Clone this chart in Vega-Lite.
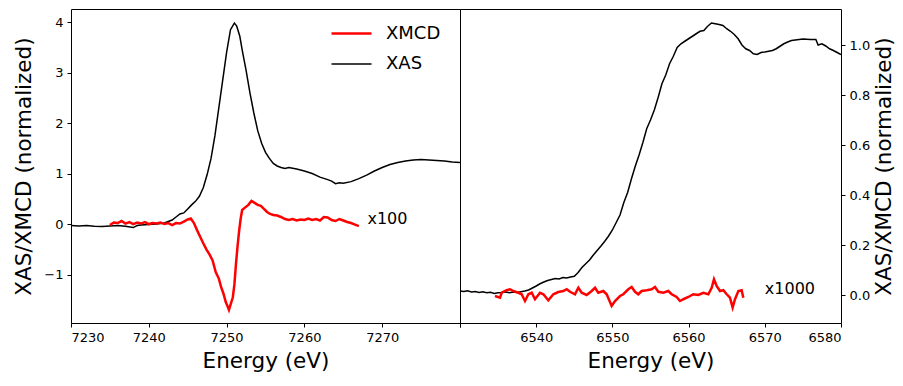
{
  "$schema": "https://vega.github.io/schema/vega-lite/v6.json",
  "background": "white",
  "padding": {"left": 13, "top": 8, "right": 5, "bottom": 5},
  "spacing": 0,
  "bounds": "flush",
  "config": {
    "font": "DejaVu Sans",
    "view": {"stroke": "black", "strokeWidth": 1},
    "axis": {"grid": false, "domain": false, "tickColor": "black", "tickSize": 4, "labelPadding": 4, "labelColor": "black", "labelFontSize": 13, "titleFontSize": 21.5, "titleFontWeight": "normal", "titleColor": "black", "labelFont": "DejaVu Sans", "titleFont": "DejaVu Sans"},
    "legend": {"labelFont": "DejaVu Sans", "labelFontSize": 18, "labelColor": "black"}
  },
  "datasets": {
    "left": [
      {"E": 7230, "v": -0.03, "s": "XAS"}, {"E": 7231, "v": -0.04, "s": "XAS"}, {"E": 7232, "v": -0.03, "s": "XAS"}, {"E": 7233, "v": -0.045, "s": "XAS"}, {"E": 7234, "v": -0.05, "s": "XAS"}, {"E": 7235, "v": -0.04, "s": "XAS"}, {"E": 7236, "v": -0.03, "s": "XAS"}, {"E": 7237, "v": -0.045, "s": "XAS"}, {"E": 7238, "v": -0.07, "s": "XAS"}, {"E": 7238.5, "v": -0.03, "s": "XAS"}, {"E": 7239, "v": -0.02, "s": "XAS"}, {"E": 7240, "v": -0.01, "s": "XAS"}, {"E": 7241, "v": 0.0, "s": "XAS"}, {"E": 7242, "v": 0.02, "s": "XAS"}, {"E": 7243, "v": 0.08, "s": "XAS"}, {"E": 7243.5, "v": 0.14, "s": "XAS"}, {"E": 7244, "v": 0.2, "s": "XAS"}, {"E": 7244.5, "v": 0.22, "s": "XAS"}, {"E": 7245, "v": 0.3, "s": "XAS"}, {"E": 7245.5, "v": 0.38, "s": "XAS"}, {"E": 7246, "v": 0.45, "s": "XAS"}, {"E": 7246.5, "v": 0.55, "s": "XAS"}, {"E": 7247, "v": 0.72, "s": "XAS"}, {"E": 7247.5, "v": 0.98, "s": "XAS"}, {"E": 7248, "v": 1.3, "s": "XAS"}, {"E": 7248.5, "v": 1.75, "s": "XAS"}, {"E": 7249, "v": 2.3, "s": "XAS"}, {"E": 7249.5, "v": 2.85, "s": "XAS"}, {"E": 7250, "v": 3.4, "s": "XAS"}, {"E": 7250.5, "v": 3.85, "s": "XAS"}, {"E": 7251, "v": 3.98, "s": "XAS"}, {"E": 7251.3, "v": 3.92, "s": "XAS"}, {"E": 7251.7, "v": 3.72, "s": "XAS"}, {"E": 7252, "v": 3.45, "s": "XAS"}, {"E": 7252.5, "v": 3.05, "s": "XAS"}, {"E": 7253, "v": 2.6, "s": "XAS"}, {"E": 7253.5, "v": 2.2, "s": "XAS"}, {"E": 7254, "v": 1.85, "s": "XAS"}, {"E": 7254.5, "v": 1.6, "s": "XAS"}, {"E": 7255, "v": 1.42, "s": "XAS"}, {"E": 7255.5, "v": 1.3, "s": "XAS"}, {"E": 7256, "v": 1.2, "s": "XAS"}, {"E": 7256.5, "v": 1.15, "s": "XAS"}, {"E": 7257, "v": 1.12, "s": "XAS"}, {"E": 7257.5, "v": 1.1, "s": "XAS"}, {"E": 7258, "v": 1.12, "s": "XAS"}, {"E": 7259, "v": 1.09, "s": "XAS"}, {"E": 7260, "v": 1.05, "s": "XAS"}, {"E": 7261, "v": 1.0, "s": "XAS"}, {"E": 7262, "v": 0.93, "s": "XAS"}, {"E": 7263, "v": 0.88, "s": "XAS"}, {"E": 7263.5, "v": 0.85, "s": "XAS"}, {"E": 7264, "v": 0.8, "s": "XAS"}, {"E": 7264.5, "v": 0.82, "s": "XAS"}, {"E": 7265, "v": 0.81, "s": "XAS"}, {"E": 7266, "v": 0.84, "s": "XAS"}, {"E": 7267, "v": 0.9, "s": "XAS"}, {"E": 7268, "v": 0.97, "s": "XAS"}, {"E": 7269, "v": 1.05, "s": "XAS"}, {"E": 7270, "v": 1.12, "s": "XAS"}, {"E": 7271, "v": 1.18, "s": "XAS"}, {"E": 7272, "v": 1.22, "s": "XAS"}, {"E": 7273, "v": 1.25, "s": "XAS"}, {"E": 7274, "v": 1.27, "s": "XAS"}, {"E": 7275, "v": 1.28, "s": "XAS"}, {"E": 7276, "v": 1.27, "s": "XAS"}, {"E": 7277, "v": 1.26, "s": "XAS"}, {"E": 7278, "v": 1.25, "s": "XAS"}, {"E": 7279, "v": 1.23, "s": "XAS"}, {"E": 7280, "v": 1.22, "s": "XAS"},
      {"E": 7235.0, "v": -0.02, "s": "XMCD"}, {"E": 7235.5, "v": 0.03, "s": "XMCD"}, {"E": 7236.0, "v": 0.02, "s": "XMCD"}, {"E": 7236.5, "v": 0.06, "s": "XMCD"}, {"E": 7237.0, "v": 0.01, "s": "XMCD"}, {"E": 7237.5, "v": 0.04, "s": "XMCD"}, {"E": 7238.0, "v": 0.0, "s": "XMCD"}, {"E": 7238.5, "v": 0.03, "s": "XMCD"}, {"E": 7239.0, "v": 0.01, "s": "XMCD"}, {"E": 7239.5, "v": 0.04, "s": "XMCD"}, {"E": 7240.0, "v": 0.0, "s": "XMCD"}, {"E": 7240.5, "v": 0.02, "s": "XMCD"}, {"E": 7241.0, "v": 0.01, "s": "XMCD"}, {"E": 7241.5, "v": 0.03, "s": "XMCD"}, {"E": 7242.0, "v": 0.0, "s": "XMCD"}, {"E": 7242.5, "v": 0.02, "s": "XMCD"}, {"E": 7243.0, "v": -0.02, "s": "XMCD"}, {"E": 7243.5, "v": 0.02, "s": "XMCD"}, {"E": 7244.0, "v": 0.01, "s": "XMCD"}, {"E": 7244.5, "v": 0.05, "s": "XMCD"}, {"E": 7245.0, "v": 0.09, "s": "XMCD"}, {"E": 7245.4, "v": 0.11, "s": "XMCD"}, {"E": 7245.8, "v": 0.02, "s": "XMCD"}, {"E": 7246.2, "v": -0.12, "s": "XMCD"}, {"E": 7246.6, "v": -0.25, "s": "XMCD"}, {"E": 7247.0, "v": -0.38, "s": "XMCD"}, {"E": 7247.4, "v": -0.5, "s": "XMCD"}, {"E": 7247.8, "v": -0.6, "s": "XMCD"}, {"E": 7248.2, "v": -0.72, "s": "XMCD"}, {"E": 7248.6, "v": -0.95, "s": "XMCD"}, {"E": 7249.0, "v": -1.08, "s": "XMCD"}, {"E": 7249.3, "v": -1.25, "s": "XMCD"}, {"E": 7249.6, "v": -1.38, "s": "XMCD"}, {"E": 7249.9, "v": -1.55, "s": "XMCD"}, {"E": 7250.1, "v": -1.62, "s": "XMCD"}, {"E": 7250.3, "v": -1.7, "s": "XMCD"}, {"E": 7250.5, "v": -1.6, "s": "XMCD"}, {"E": 7250.8, "v": -1.45, "s": "XMCD"}, {"E": 7251.0, "v": -1.2, "s": "XMCD"}, {"E": 7251.2, "v": -0.8, "s": "XMCD"}, {"E": 7251.4, "v": -0.45, "s": "XMCD"}, {"E": 7251.6, "v": -0.15, "s": "XMCD"}, {"E": 7251.8, "v": 0.1, "s": "XMCD"}, {"E": 7252.0, "v": 0.28, "s": "XMCD"}, {"E": 7252.4, "v": 0.33, "s": "XMCD"}, {"E": 7252.8, "v": 0.38, "s": "XMCD"}, {"E": 7253.2, "v": 0.46, "s": "XMCD"}, {"E": 7253.6, "v": 0.42, "s": "XMCD"}, {"E": 7254.0, "v": 0.38, "s": "XMCD"}, {"E": 7254.4, "v": 0.36, "s": "XMCD"}, {"E": 7254.8, "v": 0.3, "s": "XMCD"}, {"E": 7255.2, "v": 0.24, "s": "XMCD"}, {"E": 7255.6, "v": 0.2, "s": "XMCD"}, {"E": 7256.0, "v": 0.18, "s": "XMCD"}, {"E": 7256.5, "v": 0.17, "s": "XMCD"}, {"E": 7257.0, "v": 0.14, "s": "XMCD"}, {"E": 7257.5, "v": 0.1, "s": "XMCD"}, {"E": 7258.0, "v": 0.08, "s": "XMCD"}, {"E": 7258.5, "v": 0.1, "s": "XMCD"}, {"E": 7259.0, "v": 0.07, "s": "XMCD"}, {"E": 7259.5, "v": 0.09, "s": "XMCD"}, {"E": 7260.0, "v": 0.08, "s": "XMCD"}, {"E": 7260.5, "v": 0.11, "s": "XMCD"}, {"E": 7261.0, "v": 0.08, "s": "XMCD"}, {"E": 7261.5, "v": 0.1, "s": "XMCD"}, {"E": 7262.0, "v": 0.07, "s": "XMCD"}, {"E": 7262.5, "v": 0.14, "s": "XMCD"}, {"E": 7263.0, "v": 0.13, "s": "XMCD"}, {"E": 7263.5, "v": 0.08, "s": "XMCD"}, {"E": 7264.0, "v": 0.06, "s": "XMCD"}, {"E": 7264.5, "v": 0.1, "s": "XMCD"}, {"E": 7265.0, "v": 0.07, "s": "XMCD"}, {"E": 7265.5, "v": 0.04, "s": "XMCD"}, {"E": 7266.0, "v": 0.02, "s": "XMCD"}, {"E": 7266.5, "v": -0.01, "s": "XMCD"}, {"E": 7267.0, "v": -0.04, "s": "XMCD"}
    ],
    "right": [
      {"E": 6530.0, "v": 0.016, "s": "XAS"}, {"E": 6530.5, "v": 0.014, "s": "XAS"}, {"E": 6531.0, "v": 0.017, "s": "XAS"}, {"E": 6531.5, "v": 0.012, "s": "XAS"}, {"E": 6532.0, "v": 0.014, "s": "XAS"}, {"E": 6532.5, "v": 0.01, "s": "XAS"}, {"E": 6533.0, "v": 0.013, "s": "XAS"}, {"E": 6533.5, "v": 0.009, "s": "XAS"}, {"E": 6534.0, "v": 0.011, "s": "XAS"}, {"E": 6534.5, "v": 0.006, "s": "XAS"}, {"E": 6535.0, "v": 0.009, "s": "XAS"}, {"E": 6535.5, "v": 0.01, "s": "XAS"}, {"E": 6536.0, "v": 0.012, "s": "XAS"}, {"E": 6536.5, "v": 0.009, "s": "XAS"}, {"E": 6537.0, "v": 0.012, "s": "XAS"}, {"E": 6537.5, "v": 0.01, "s": "XAS"}, {"E": 6538.0, "v": 0.013, "s": "XAS"}, {"E": 6538.5, "v": 0.016, "s": "XAS"}, {"E": 6539.0, "v": 0.02, "s": "XAS"}, {"E": 6539.5, "v": 0.028, "s": "XAS"}, {"E": 6540.0, "v": 0.036, "s": "XAS"}, {"E": 6540.5, "v": 0.045, "s": "XAS"}, {"E": 6541.0, "v": 0.052, "s": "XAS"}, {"E": 6541.5, "v": 0.058, "s": "XAS"}, {"E": 6542.0, "v": 0.062, "s": "XAS"}, {"E": 6542.5, "v": 0.066, "s": "XAS"}, {"E": 6543.0, "v": 0.064, "s": "XAS"}, {"E": 6543.5, "v": 0.07, "s": "XAS"}, {"E": 6544.0, "v": 0.068, "s": "XAS"}, {"E": 6544.5, "v": 0.072, "s": "XAS"}, {"E": 6545.0, "v": 0.075, "s": "XAS"}, {"E": 6545.5, "v": 0.09, "s": "XAS"}, {"E": 6546.0, "v": 0.11, "s": "XAS"}, {"E": 6546.5, "v": 0.125, "s": "XAS"}, {"E": 6547.0, "v": 0.14, "s": "XAS"}, {"E": 6547.5, "v": 0.16, "s": "XAS"}, {"E": 6548.0, "v": 0.178, "s": "XAS"}, {"E": 6548.5, "v": 0.196, "s": "XAS"}, {"E": 6549.0, "v": 0.215, "s": "XAS"}, {"E": 6549.5, "v": 0.236, "s": "XAS"}, {"E": 6550.0, "v": 0.26, "s": "XAS"}, {"E": 6550.5, "v": 0.29, "s": "XAS"}, {"E": 6551.0, "v": 0.32, "s": "XAS"}, {"E": 6551.5, "v": 0.37, "s": "XAS"}, {"E": 6552.0, "v": 0.41, "s": "XAS"}, {"E": 6552.5, "v": 0.465, "s": "XAS"}, {"E": 6553.0, "v": 0.515, "s": "XAS"}, {"E": 6553.5, "v": 0.56, "s": "XAS"}, {"E": 6554.0, "v": 0.61, "s": "XAS"}, {"E": 6554.5, "v": 0.665, "s": "XAS"}, {"E": 6555.0, "v": 0.7, "s": "XAS"}, {"E": 6555.5, "v": 0.74, "s": "XAS"}, {"E": 6556.0, "v": 0.79, "s": "XAS"}, {"E": 6556.5, "v": 0.845, "s": "XAS"}, {"E": 6557.0, "v": 0.88, "s": "XAS"}, {"E": 6557.5, "v": 0.925, "s": "XAS"}, {"E": 6558.0, "v": 0.955, "s": "XAS"}, {"E": 6558.5, "v": 0.99, "s": "XAS"}, {"E": 6559.0, "v": 1.005, "s": "XAS"}, {"E": 6559.5, "v": 1.015, "s": "XAS"}, {"E": 6560.0, "v": 1.025, "s": "XAS"}, {"E": 6560.5, "v": 1.035, "s": "XAS"}, {"E": 6561.0, "v": 1.045, "s": "XAS"}, {"E": 6561.5, "v": 1.055, "s": "XAS"}, {"E": 6562.0, "v": 1.058, "s": "XAS"}, {"E": 6562.5, "v": 1.075, "s": "XAS"}, {"E": 6563.0, "v": 1.088, "s": "XAS"}, {"E": 6563.5, "v": 1.085, "s": "XAS"}, {"E": 6564.0, "v": 1.082, "s": "XAS"}, {"E": 6564.5, "v": 1.078, "s": "XAS"}, {"E": 6565.0, "v": 1.065, "s": "XAS"}, {"E": 6565.5, "v": 1.055, "s": "XAS"}, {"E": 6566.0, "v": 1.042, "s": "XAS"}, {"E": 6566.5, "v": 1.025, "s": "XAS"}, {"E": 6567.0, "v": 1.0, "s": "XAS"}, {"E": 6567.5, "v": 0.985, "s": "XAS"}, {"E": 6568.0, "v": 0.978, "s": "XAS"}, {"E": 6568.5, "v": 0.965, "s": "XAS"}, {"E": 6569.0, "v": 0.962, "s": "XAS"}, {"E": 6569.5, "v": 0.97, "s": "XAS"}, {"E": 6570.0, "v": 0.972, "s": "XAS"}, {"E": 6570.5, "v": 0.975, "s": "XAS"}, {"E": 6571.0, "v": 0.978, "s": "XAS"}, {"E": 6571.5, "v": 0.985, "s": "XAS"}, {"E": 6572.0, "v": 0.995, "s": "XAS"}, {"E": 6572.5, "v": 1.005, "s": "XAS"}, {"E": 6573.0, "v": 1.012, "s": "XAS"}, {"E": 6573.5, "v": 1.018, "s": "XAS"}, {"E": 6574.0, "v": 1.02, "s": "XAS"}, {"E": 6575.0, "v": 1.024, "s": "XAS"}, {"E": 6576.0, "v": 1.022, "s": "XAS"}, {"E": 6576.7, "v": 1.022, "s": "XAS"}, {"E": 6577.0, "v": 1.0, "s": "XAS"}, {"E": 6577.5, "v": 1.005, "s": "XAS"}, {"E": 6578.0, "v": 0.996, "s": "XAS"}, {"E": 6578.5, "v": 0.985, "s": "XAS"}, {"E": 6579.0, "v": 0.978, "s": "XAS"}, {"E": 6579.5, "v": 0.97, "s": "XAS"}, {"E": 6580.0, "v": 0.962, "s": "XAS"},
      {"E": 6534.59, "v": -0.004, "s": "XMCD"}, {"E": 6535.25, "v": -0.011, "s": "XMCD"}, {"E": 6535.47, "v": 0.009, "s": "XMCD"}, {"E": 6536.12, "v": 0.019, "s": "XMCD"}, {"E": 6536.56, "v": 0.023, "s": "XMCD"}, {"E": 6537.0, "v": 0.016, "s": "XMCD"}, {"E": 6537.66, "v": 0.009, "s": "XMCD"}, {"E": 6538.09, "v": 0.003, "s": "XMCD"}, {"E": 6538.53, "v": -0.024, "s": "XMCD"}, {"E": 6538.97, "v": 0.003, "s": "XMCD"}, {"E": 6539.41, "v": 0.009, "s": "XMCD"}, {"E": 6539.84, "v": -0.017, "s": "XMCD"}, {"E": 6540.5, "v": 0.009, "s": "XMCD"}, {"E": 6540.94, "v": 0.003, "s": "XMCD"}, {"E": 6541.59, "v": -0.021, "s": "XMCD"}, {"E": 6542.25, "v": 0.003, "s": "XMCD"}, {"E": 6542.9, "v": 0.012, "s": "XMCD"}, {"E": 6543.56, "v": 0.016, "s": "XMCD"}, {"E": 6544.0, "v": 0.023, "s": "XMCD"}, {"E": 6544.44, "v": 0.013, "s": "XMCD"}, {"E": 6545.09, "v": 0.003, "s": "XMCD"}, {"E": 6545.53, "v": 0.029, "s": "XMCD"}, {"E": 6545.97, "v": 0.009, "s": "XMCD"}, {"E": 6546.62, "v": 0.0, "s": "XMCD"}, {"E": 6547.28, "v": 0.016, "s": "XMCD"}, {"E": 6547.72, "v": 0.029, "s": "XMCD"}, {"E": 6548.15, "v": 0.009, "s": "XMCD"}, {"E": 6548.81, "v": 0.016, "s": "XMCD"}, {"E": 6549.25, "v": 0.003, "s": "XMCD"}, {"E": 6549.9, "v": -0.044, "s": "XMCD"}, {"E": 6550.34, "v": -0.024, "s": "XMCD"}, {"E": 6551.0, "v": -0.004, "s": "XMCD"}, {"E": 6551.43, "v": 0.003, "s": "XMCD"}, {"E": 6552.09, "v": 0.023, "s": "XMCD"}, {"E": 6552.53, "v": 0.032, "s": "XMCD"}, {"E": 6552.97, "v": 0.013, "s": "XMCD"}, {"E": 6553.4, "v": 0.003, "s": "XMCD"}, {"E": 6553.84, "v": 0.016, "s": "XMCD"}, {"E": 6554.5, "v": 0.019, "s": "XMCD"}, {"E": 6555.15, "v": 0.023, "s": "XMCD"}, {"E": 6555.59, "v": 0.032, "s": "XMCD"}, {"E": 6556.03, "v": 0.013, "s": "XMCD"}, {"E": 6556.68, "v": 0.009, "s": "XMCD"}, {"E": 6557.34, "v": 0.016, "s": "XMCD"}, {"E": 6557.78, "v": 0.003, "s": "XMCD"}, {"E": 6558.43, "v": -0.008, "s": "XMCD"}, {"E": 6558.87, "v": -0.024, "s": "XMCD"}, {"E": 6559.31, "v": -0.017, "s": "XMCD"}, {"E": 6559.97, "v": -0.008, "s": "XMCD"}, {"E": 6560.62, "v": 0.003, "s": "XMCD"}, {"E": 6561.28, "v": 0.0, "s": "XMCD"}, {"E": 6561.93, "v": 0.009, "s": "XMCD"}, {"E": 6562.59, "v": 0.003, "s": "XMCD"}, {"E": 6563.03, "v": 0.029, "s": "XMCD"}, {"E": 6563.33, "v": 0.063, "s": "XMCD"}, {"E": 6563.68, "v": 0.036, "s": "XMCD"}, {"E": 6564.12, "v": 0.016, "s": "XMCD"}, {"E": 6564.56, "v": 0.019, "s": "XMCD"}, {"E": 6565.0, "v": 0.003, "s": "XMCD"}, {"E": 6565.43, "v": -0.011, "s": "XMCD"}, {"E": 6565.78, "v": -0.05, "s": "XMCD"}, {"E": 6566.09, "v": -0.017, "s": "XMCD"}, {"E": 6566.53, "v": 0.016, "s": "XMCD"}, {"E": 6566.96, "v": 0.019, "s": "XMCD"}, {"E": 6567.18, "v": -0.011, "s": "XMCD"}
    ]
  },
  "hconcat": [
    {
      "width": 389,
      "height": 314,
      "layer": [
        {
          "data": {"name": "left"},
          "mark": {"type": "line", "clip": true},
          "encoding": {
            "x": {"field": "E", "type": "quantitative", "scale": {"domain": [7230, 7280], "nice": false, "zero": false}, "axis": {"values": [7230, 7240, 7250, 7260, 7270, 7280], "labelExpr": "datum.value == 7280 ? '' : datum.label", "format": "d", "title": "Energy (eV)", "titlePadding": 6}},
            "y": {"field": "v", "type": "quantitative", "scale": {"domain": [-1.96, 4.26], "nice": false, "zero": false}, "axis": {"values": [-1, 0, 1, 2, 3, 4], "title": "XAS/XMCD (normalized)", "titlePadding": 8}},
            "color": {"field": "s", "type": "nominal", "scale": {"domain": ["XMCD", "XAS"], "range": ["#ff0000", "#000000"]}, "legend": {"title": null, "orient": "none", "legendX": 259, "legendY": 3, "rowPadding": -4, "symbolType": "stroke", "symbolSize": 1600, "symbolStrokeWidth": 2.5, "labelOffset": 13}},
            "strokeWidth": {"field": "s", "type": "nominal", "scale": {"domain": ["XMCD", "XAS"], "range": [2.5, 1.5]}, "legend": null}
          }
        },
        {
          "data": {"values": [{"E": 7268.1, "v": 0.1, "t": "x100"}]},
          "mark": {"type": "text", "align": "left", "baseline": "middle", "fontSize": 16, "color": "black"},
          "encoding": {
            "x": {"field": "E", "type": "quantitative"},
            "y": {"field": "v", "type": "quantitative"},
            "text": {"field": "t"}
          }
        }
      ]
    },
    {
      "width": 381,
      "height": 314,
      "layer": [
        {
          "data": {"name": "right"},
          "mark": {"type": "line", "clip": true},
          "encoding": {
            "x": {"field": "E", "type": "quantitative", "scale": {"domain": [6530, 6580], "nice": false, "zero": false}, "axis": {"values": [6530, 6540, 6550, 6560, 6570, 6580], "labelExpr": "datum.value == 6530 ? '' : datum.label", "format": "d", "title": "Energy (eV)", "titlePadding": 6}},
            "y": {"field": "v", "type": "quantitative", "scale": {"domain": [-0.112, 1.144], "nice": false, "zero": false}, "axis": {"orient": "right", "values": [0, 0.2, 0.4, 0.6, 0.8, 1.0], "format": ".1f", "title": "XAS/XMCD (normalized)", "titleAngle": 270, "titleBaseline": "top", "titlePadding": 4}},
            "color": {"field": "s", "type": "nominal", "scale": {"domain": ["XMCD", "XAS"], "range": ["#ff0000", "#000000"]}, "legend": null},
            "strokeWidth": {"field": "s", "type": "nominal", "scale": {"domain": ["XMCD", "XAS"], "range": [2.5, 1.5]}, "legend": null}
          }
        },
        {
          "data": {"values": [{"E": 6570.0, "v": 0.024, "t": "x1000"}]},
          "mark": {"type": "text", "align": "left", "baseline": "middle", "fontSize": 16, "color": "black"},
          "encoding": {
            "x": {"field": "E", "type": "quantitative"},
            "y": {"field": "v", "type": "quantitative"},
            "text": {"field": "t"}
          }
        }
      ]
    }
  ],
  "resolve": {"scale": {"x": "independent", "y": "independent", "color": "shared", "strokeWidth": "shared"}}
}
